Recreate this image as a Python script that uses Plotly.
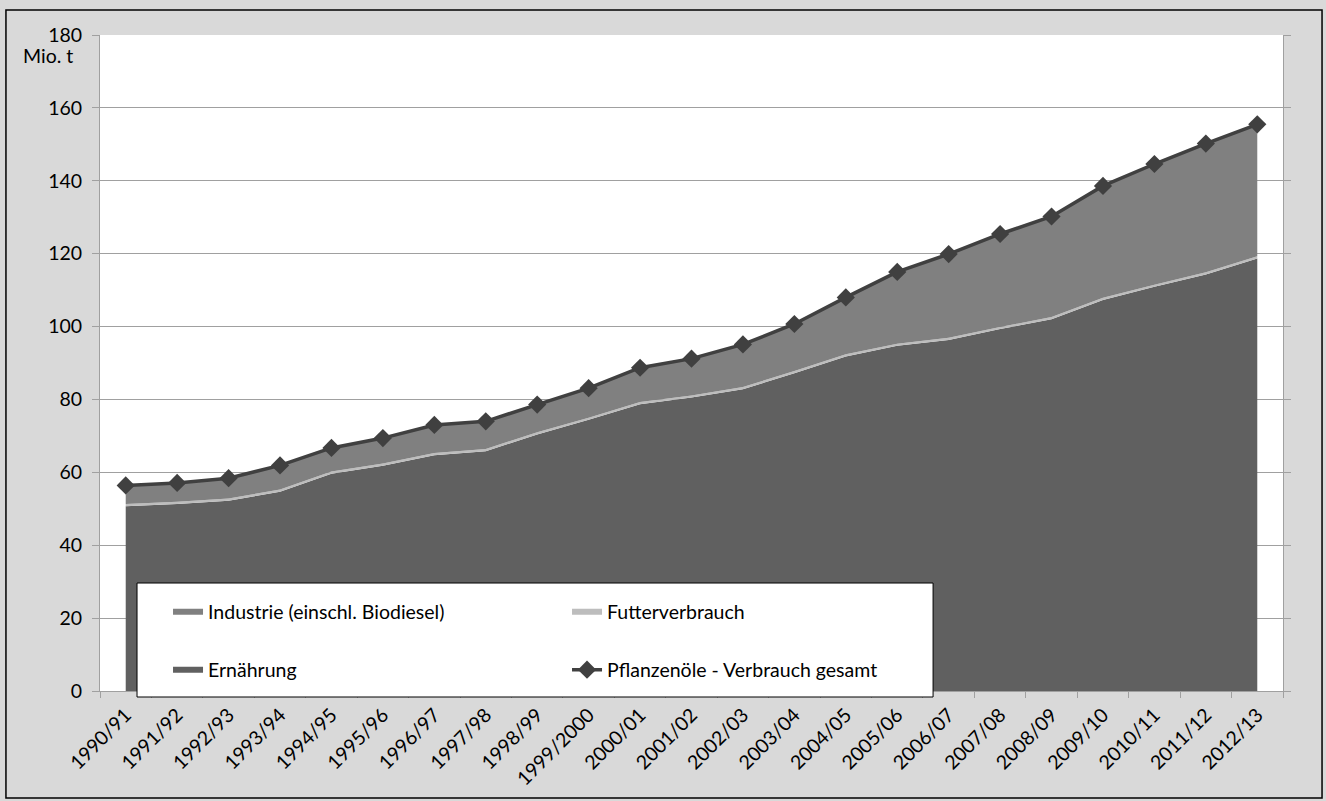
import plotly.graph_objects as go

years = ["1990/91", "1991/92", "1992/93", "1993/94", "1994/95", "1995/96", "1996/97",
         "1997/98", "1998/99", "1999/2000", "2000/01", "2001/02", "2002/03", "2003/04",
         "2004/05", "2005/06", "2006/07", "2007/08", "2008/09", "2009/10", "2010/11",
         "2011/12", "2012/13"]

ernaehrung = [50.7, 51.3, 52.2, 54.7, 59.6, 61.8, 64.7, 65.8, 70.4, 74.4, 78.7, 80.5,
              82.8, 87.2, 91.8, 94.7, 96.3, 99.3, 102.0, 107.3, 110.9, 114.3, 118.7]
futter = [0.6, 0.6, 0.6, 0.6, 0.6, 0.6, 0.6, 0.6, 0.6, 0.6, 0.6, 0.6,
          0.6, 0.6, 0.6, 0.6, 0.6, 0.6, 0.6, 0.6, 0.6, 0.6, 0.6]
industrie = [5.1, 5.2, 5.6, 6.6, 6.5, 7.0, 7.7, 7.6, 7.6, 8.1, 9.4, 10.1,
             11.7, 12.9, 15.6, 19.7, 23.0, 25.5, 27.6, 30.7, 33.1, 35.3, 36.2]
gesamt = [56.4, 57.1, 58.4, 61.9, 66.7, 69.4, 73.0, 74.0, 78.6, 83.1, 88.7, 91.2,
          95.1, 100.7, 108.0, 115.0, 119.9, 125.4, 130.2, 138.6, 144.6, 150.2, 155.5]

y_ticks = [0, 20, 40, 60, 80, 100, 120, 140, 160, 180]

FONT = "Lato"
FS = 19.5
fig = go.Figure()

fig.add_trace(go.Scatter(x=years, y=ernaehrung, name="Ernährung", stackgroup="s",
                         mode="none", fillcolor="#606060", legend="legend2", legendrank=1))
fig.add_trace(go.Scatter(x=years, y=futter, name="Futterverbrauch", stackgroup="s",
                         mode="none", fillcolor="#bdbdbd", legend="legend", legendrank=2))
fig.add_trace(go.Scatter(x=years, y=industrie, name="Industrie (einschl. Biodiesel)", stackgroup="s",
                         mode="none", fillcolor="#808080", legend="legend", legendrank=1))
fig.add_trace(go.Scatter(x=years, y=gesamt, name="Pflanzenöle - Verbrauch gesamt",
                         mode="lines+markers", line=dict(color="#404040", width=3.5),
                         marker=dict(symbol="diamond", size=14, color="#404040"),
                         legend="legend2", legendrank=2))

legend_common = dict(orientation="h", bgcolor="rgba(0,0,0,0)", borderwidth=0,
                     traceorder="normal",
                     font=dict(family=FONT, size=FS, color="#000000"),
                     entrywidth=354, entrywidthmode="pixels",
                     xanchor="left", yanchor="middle", x=0.0575)

fig.update_layout(
    width=1326, height=801,
    margin=dict(l=100, r=43, t=35, b=110),
    paper_bgcolor="#d9d9d9",
    plot_bgcolor="#ffffff",
    font=dict(family=FONT, size=FS, color="#000000"),
    legend=dict(**legend_common, y=0.1204),
    legend2=dict(**legend_common, y=0.032),
    xaxis=dict(type="category", range=[-0.5, 22.5], tickson="boundaries",
               ticks="outside", ticklen=6, tickcolor="#a0a0a0",
               showline=True, linecolor="#a0a0a0", linewidth=1,
               showgrid=False, tickangle=-45, ticklabelstandoff=4,
               tickfont=dict(family=FONT, size=FS)),
    yaxis=dict(range=[0, 180], tickvals=y_ticks, ticks="outside", ticklen=7,
               tickcolor="#a0a0a0", showline=True, linecolor="#a0a0a0", mirror="ticks",
               showgrid=True, gridcolor="#a0a0a0", gridwidth=1, zeroline=False,
               ticklabelstandoff=6, tickfont=dict(family=FONT, size=FS)),
    showlegend=True,
)

# legend box
fig.add_shape(type="rect", xref="paper", yref="paper",
              x0=0.0313, x1=0.7042, y0=-0.00915, y1=0.1646,
              fillcolor="#ffffff", line=dict(color="#000000", width=1), layer="above")
# outer frame
fig.add_shape(type="rect", xref="paper", yref="paper",
              x0=-0.0795, x1=1.033, y0=-0.163, y1=1.038,
              fillcolor="rgba(0,0,0,0)", line=dict(color="#000000", width=1.5), layer="below")

fig.add_annotation(text="Mio. t", xref="paper", yref="paper", x=-0.0211, y=0.968,
                   xanchor="right", yanchor="middle", showarrow=False,
                   font=dict(family=FONT, size=FS, color="#000000"))

fig.write_html("out.html")
